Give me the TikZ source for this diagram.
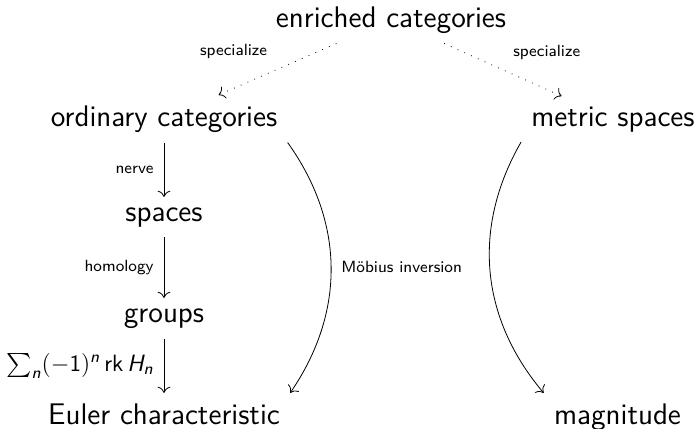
\documentclass[tikz,border=0pt]{standalone}
\usepackage{amsmath}
\usetikzlibrary{arrows.meta}
\begin{document}
\begin{tikzpicture}[x=0.5pt,y=-0.5pt,
  >={To[scale=1.25]},
  obj/.style={inner sep=5pt, anchor=base, font=\sffamily\fontsize{14.9}{18}\selectfont},
  lbl/.style={inner sep=5pt, font=\sffamily\fontsize{8.1}{10}\selectfont},
  mlbl/.style={inner sep=5pt, font=\sffamily\fontsize{11.8}{14}\selectfont},
  arr/.style={->},
  dotarr/.style={->, dash pattern=on 0.4pt off 3.3pt}]
\useasboundingbox (0,0) rectangle (700,428);
\node[obj] (enriched) at (391,27) {enriched categories};
\node[obj] (ordinary) at (164,126) {ordinary categories};
\node[obj] (metric) at (613,126) {metric spaces};
\node[obj] (spaces) at (164,221) {spaces};
\node[obj] (groups) at (164,322) {groups};
\node[obj] (euler) at (164,424) {Euler characteristic};
\node[obj] (magnitude) at (617.5,424) {magnitude};
\draw[dotarr] (enriched) -- node[lbl,above left] {specialize} (ordinary);
\draw[dotarr] (enriched) -- node[lbl,above right] {specialize} (metric);
\draw[arr] (ordinary) -- node[lbl,left] {nerve} (spaces);
\draw[arr] (spaces) -- node[lbl,left] {homology} (groups);
\draw[arr] (groups) -- node[mlbl,left] {$\sum_{\textsf{\itshape n}}(-\textsf{1})^{\textsf{\itshape n}}\,\textsf{rk}\,\textsf{\itshape H}_{\textsf{\itshape n}}$} (euler);
\draw[arr] (ordinary.south east) to[bend left=35] node[lbl,right] {Möbius inversion} (euler.north east);
\draw[arr] (metric.south west) to[bend right=35] (magnitude.north west);
\end{tikzpicture}
\end{document}
